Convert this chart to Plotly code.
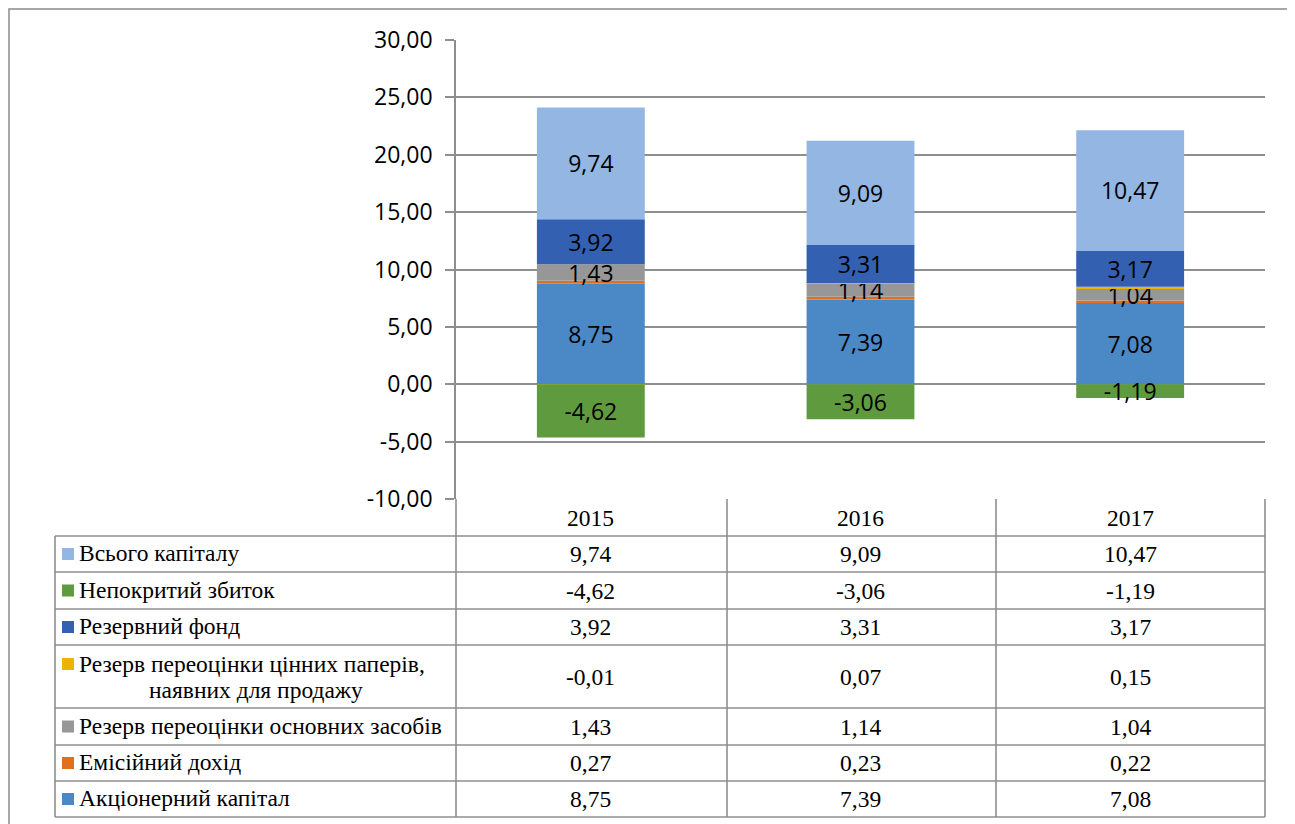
import plotly.graph_objects as go

# ---------------- data ----------------
years = ["2015", "2016", "2017"]
akts_kap = [8.75, 7.39, 7.08]          # Акціонерний капітал
emis_dokhid = [0.27, 0.23, 0.22]       # Емісійний дохід
rez_osn = [1.43, 1.14, 1.04]           # Резерв переоцінки основних засобів
rez_cp = [-0.01, 0.07, 0.15]           # Резерв переоцінки цінних паперів
rez_fond = [3.92, 3.31, 3.17]          # Резервний фонд
nepokr = [-4.62, -3.06, -1.19]         # Непокритий збиток
vsogo = [9.74, 9.09, 10.47]            # Всього капіталу
y_ticks = [-10, -5, 0, 5, 10, 15, 20, 25, 30]

OFF = 8  # page body margin in the browser
W, H = 1295 - OFF, 824 - OFF


def fmt(v):
    return f"{v:.2f}".replace(".", ",")


def px(x):
    return (x - OFF) / W


def py(y):
    return 1 - (y - OFF) / H


# series in stacking order (bottom -> top)
series = [
    ("Акціонерний капітал", akts_kap, "#4a89c6", True),
    ("Емісійний дохід", emis_dokhid, "#e0701f", False),
    ("Резерв переоцінки основних засобів", rez_osn, "#979797", True),
    ("Резерв переоцінки цінних паперів,<br>наявних для продажу", rez_cp, "#eab400", False),
    ("Резервний фонд", rez_fond, "#3460b2", True),
    ("Непокритий збиток", nepokr, "#5f9b3e", True),
    ("Всього капіталу", vsogo, "#93b7e2", True),
]

fig = go.Figure()
for name, vals, color, show in series:
    fig.add_trace(go.Bar(
        x=years, y=vals, name=name,
        marker=dict(color=color, line=dict(width=0)),
        text=[fmt(v) for v in vals] if show else None,
        textposition="inside" if show else "none",
        insidetextanchor="middle",
        constraintext="none",
        textangle=0,
        textfont=dict(family="Open Sans", size=23, color="#000000"),
        hoverinfo="skip",
    ))

# plot area geometry (reference pixels)
PL, PR, PT, PB = 456, 1265, 40, 499
grid_col = "#8e8e8e"

fig.update_layout(
    width=W, height=H,
    margin=dict(l=0, r=0, t=0, b=0, autoexpand=False),
    paper_bgcolor="white", plot_bgcolor="white",
    barmode="relative", bargap=0.6,
    showlegend=False,
    separators=", ",
    xaxis=dict(type="category", categoryarray=years, range=[-0.5, len(years) - 0.5],
               domain=[px(PL), px(PR)], showticklabels=False,
               showgrid=False, zeroline=False, showline=False, ticks=""),
    yaxis=dict(domain=[py(PB), py(PT)], range=[-10, 30], tickvals=y_ticks,
               ticktext=[fmt(v) for v in y_ticks], automargin=False,
               showgrid=True, gridcolor=grid_col, gridwidth=1.6,
               zeroline=False, showline=True, linecolor=grid_col, linewidth=1.6,
               ticks="outside", ticklen=9, tickcolor=grid_col, tickwidth=1.6,
               ticklabelstandoff=8,
               tickfont=dict(family="Open Sans", size=23, color="#000000")),
)

shapes = []
# outer frame
shapes.append(dict(type="rect", xref="paper", yref="paper",
                   x0=px(9), x1=px(1293), y0=-0.05, y1=py(9),
                   line=dict(color="#8a8a8a", width=1.5), fillcolor="rgba(0,0,0,0)"))

# table geometry
row_lines = [536, 572, 609, 645, 708, 745, 781, 817]
TL = 55
col_lines = [PL, 727, 996, PR]
tline = dict(color=grid_col, width=1.6)
for cx in col_lines:
    shapes.append(dict(type="line", xref="paper", yref="paper", x0=px(cx), x1=px(cx),
                       y0=py(PB), y1=py(row_lines[-1]), line=tline))
shapes.append(dict(type="line", xref="paper", yref="paper", x0=px(TL), x1=px(TL),
                   y0=py(row_lines[0]), y1=py(row_lines[-1]), line=tline))
for ry in row_lines:
    shapes.append(dict(type="line", xref="paper", yref="paper", x0=px(TL), x1=px(PR),
                       y0=py(ry), y1=py(ry), line=tline))

annotations = []
tfont = dict(family="Liberation Serif", size=23.5, color="#000000")
for i, yr in enumerate(years):
    annotations.append(dict(x=i, xref="x", y=py((PB + row_lines[0]) / 2), yref="paper",
                            text=yr, showarrow=False, font=tfont,
                            xanchor="center", yanchor="middle"))

table_order = [6, 5, 4, 3, 2, 1, 0]  # top -> bottom rows
for r, si in enumerate(table_order):
    name, vals, color, _ = series[si]
    top, bot = row_lines[r], row_lines[r + 1]
    mid = (top + bot) / 2
    if "<br>" in name:
        l1, l2 = name.split("<br>")
        ly = top + 19
        annotations.append(dict(x=px(77), xref="paper", y=py(ly), yref="paper", text=l1,
                                showarrow=False, font=tfont, xanchor="left", yanchor="middle"))
        annotations.append(dict(x=px((TL + PL) / 2), xref="paper", y=py(ly + 26), yref="paper",
                                text=l2, showarrow=False, font=tfont,
                                xanchor="center", yanchor="middle"))
        sq_y = ly
    else:
        annotations.append(dict(x=px(77), xref="paper", y=py(mid - 1), yref="paper", text=name,
                                showarrow=False, font=tfont, xanchor="left", yanchor="middle"))
        sq_y = mid
    shapes.append(dict(type="rect", xref="paper", yref="paper",
                       x0=px(62), x1=px(74), y0=py(sq_y + 6), y1=py(sq_y - 6),
                       line=dict(width=0), fillcolor=color))
    for i, v in enumerate(vals):
        annotations.append(dict(x=i, xref="x", y=py(mid), yref="paper", text=fmt(v),
                                showarrow=False, font=tfont,
                                xanchor="center", yanchor="middle"))

fig.update_layout(shapes=shapes, annotations=annotations)
fig.write_html("out.html")
